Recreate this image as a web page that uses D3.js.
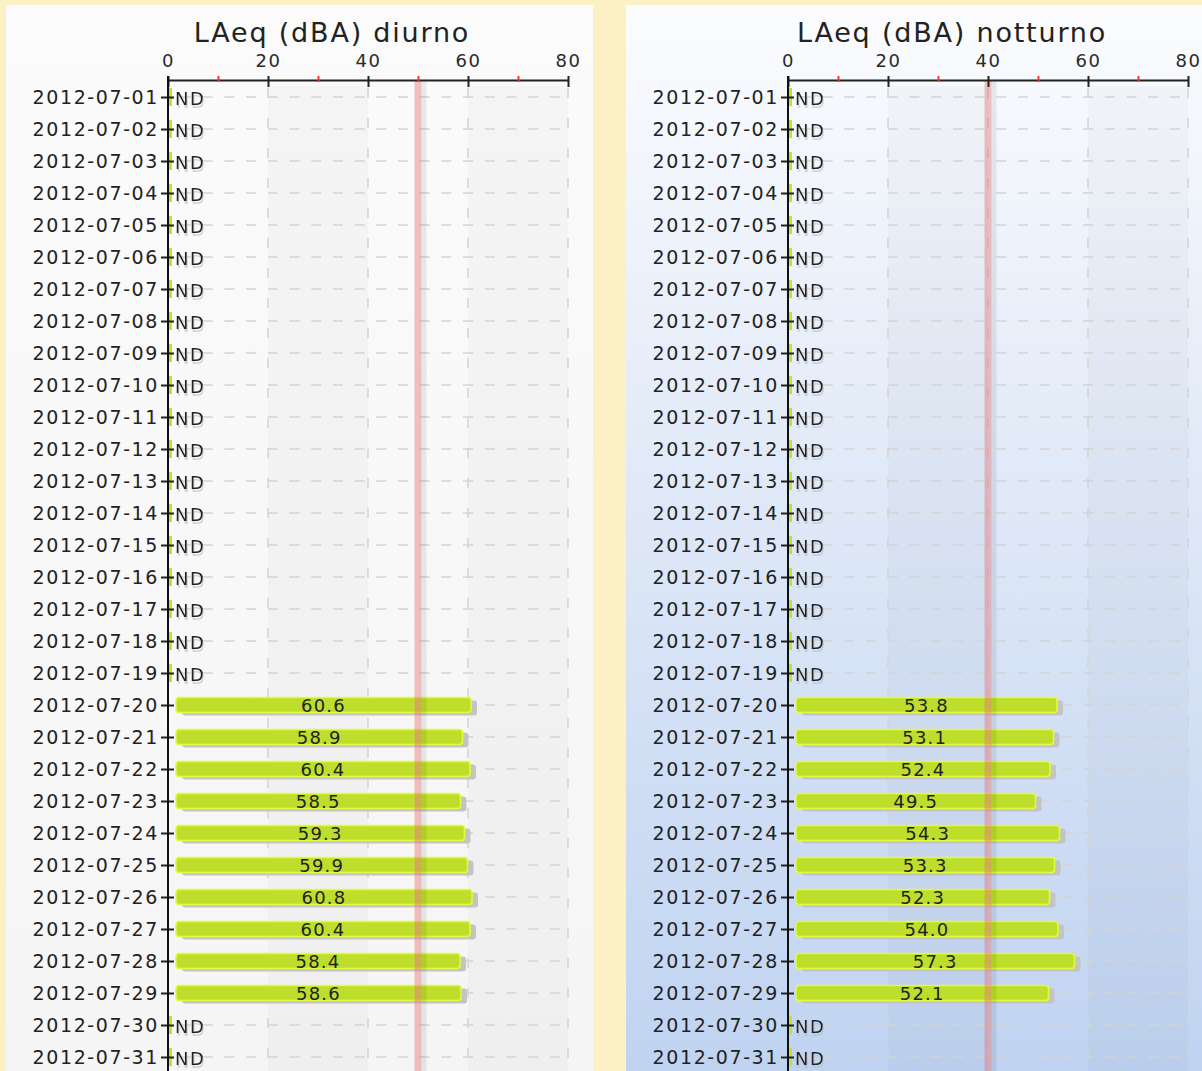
<!DOCTYPE html>
<html>
<head>
<meta charset="utf-8">
<script src="https://cdn.jsdelivr.net/npm/d3@7"></script>
<style>
  body { margin: 0; background: #fcf0c5; }
  svg { display: block; font-family: "DejaVu Sans", Verdana, sans-serif; }
</style>
</head>
<body>
<div id="chart"></div>
<script>
// Data (null = ND)
var dates = ["2012-07-01", "2012-07-02", "2012-07-03", "2012-07-04", "2012-07-05", "2012-07-06",
  "2012-07-07", "2012-07-08", "2012-07-09", "2012-07-10", "2012-07-11", "2012-07-12",
  "2012-07-13", "2012-07-14", "2012-07-15", "2012-07-16", "2012-07-17", "2012-07-18",
  "2012-07-19", "2012-07-20", "2012-07-21", "2012-07-22", "2012-07-23", "2012-07-24",
  "2012-07-25", "2012-07-26", "2012-07-27", "2012-07-28", "2012-07-29", "2012-07-30",
  "2012-07-31"];

var diurno = [null, null, null, null, null, null, null, null, null, null, null, null, null,
  null, null, null, null, null, null,
  60.6, 58.9, 60.4, 58.5, 59.3, 59.9, 60.8, 60.4, 58.4, 58.6, null, null];

var notturno = [null, null, null, null, null, null, null, null, null, null, null, null, null,
  null, null, null, null, null, null,
  53.8, 53.1, 52.4, 49.5, 54.3, 53.3, 52.3, 54.0, 57.3, 52.1, null, null];

var majorTicks = [0, 20, 40, 60, 80];
var minorTicks = [10, 30, 50, 70];
var limitDiurno = 50;
var limitNotturno = 40;

// Set up the chart
var svgWidth = 1202;
var svgHeight = 1071;
var panelWidth = 587;
var panelTop = 5;
var margin = { top: 80, left: 162 };
var width = 400;
var height = 1000;

var svg = d3.select("#chart")
    .append("svg")
    .attr("width", svgWidth)
    .attr("height", svgHeight);

var defs = svg.append("defs");

var grayBg = defs.append("linearGradient").attr("id", "grayBg")
    .attr("x1", 0).attr("y1", 0).attr("x2", 0).attr("y2", 1);
grayBg.append("stop").attr("offset", "0%").attr("stop-color", "#fbfbfb");
grayBg.append("stop").attr("offset", "100%").attr("stop-color", "#f5f5f5");

var blueBg = defs.append("linearGradient").attr("id", "blueBg")
    .attr("x1", 0).attr("y1", 0).attr("x2", 0).attr("y2", 1);
blueBg.append("stop").attr("offset", "0%").attr("stop-color", "#fbfcfe");
blueBg.append("stop").attr("offset", "50%").attr("stop-color", "#dde7f7");
blueBg.append("stop").attr("offset", "100%").attr("stop-color", "#bfd3f1");

// faint ghost under the ND labels
var ghost = defs.append("filter").attr("id", "ghost")
    .attr("x", "-20%").attr("y", "-20%").attr("width", "140%").attr("height", "160%");
ghost.append("feDropShadow")
    .attr("dx", 1).attr("dy", 3).attr("stdDeviation", 0.4)
    .attr("flood-color", "#bbbbbb").attr("flood-opacity", 0.6);

function drawPanel(px, title, values, limit, bg) {
    // panel background
    svg.append("rect")
        .attr("x", px)
        .attr("y", panelTop)
        .attr("width", panelWidth)
        .attr("height", svgHeight)
        .attr("fill", bg);

    svg.append("text")
        .attr("x", px + 326)
        .attr("y", 42)
        .attr("text-anchor", "middle")
        .attr("font-size", 27)
        .attr("letter-spacing", 1.8)
        .attr("fill", "#222")
        .text(title);

    var chartGroup = svg.append("g")
        .attr("transform", `translate(${px + margin.left}, ${margin.top})`);

    var xScale = d3.scaleLinear().domain([0, 80]).range([0, width]);
    var yScale = d3.scalePoint().domain(dates).range([17, 977]);

    // alternating column bands
    chartGroup.selectAll(".band")
        .data([[20, 40], [60, 80]])
        .enter()
        .append("rect")
        .attr("x", d => xScale(d[0]))
        .attr("width", d => xScale(d[1]) - xScale(d[0]))
        .attr("y", 6)
        .attr("height", height)
        .attr("fill", "rgba(0,0,0,0.025)");

    // vertical grid
    chartGroup.selectAll(".vgrid")
        .data(majorTicks.slice(1))
        .enter()
        .append("line")
        .attr("x1", d => xScale(d))
        .attr("x2", d => xScale(d))
        .attr("y1", 8)
        .attr("y2", height)
        .attr("stroke", "#d4d4d4")
        .attr("stroke-width", 1.5)
        .attr("stroke-dasharray", "10,20");

    // horizontal grid
    chartGroup.selectAll(".hgrid")
        .data(dates)
        .enter()
        .append("line")
        .attr("x1", xScale(0))
        .attr("x2", xScale(78.4))
        .attr("y1", d => yScale(d))
        .attr("y2", d => yScale(d))
        .attr("stroke", "#d4d4d4")
        .attr("stroke-width", 1.5)
        .attr("stroke-dasharray", "10,11.7")
        .attr("stroke-dashoffset", 8.7);

    var rows = dates.map((d, i) => ({ date: d, value: values[i] }));
    var data = rows.filter(d => d.value != null);
    var nd = rows.filter(d => d.value == null);
    var barStart = xScale(0) + 8;
    var barH = 15;

    // bar shadows
    chartGroup.selectAll(".shadow")
        .data(data)
        .enter()
        .append("rect")
        .attr("x", barStart + 6)
        .attr("y", d => yScale(d.date) - barH / 2 + 3)
        .attr("width", d => xScale(d.value) - barStart)
        .attr("height", barH)
        .attr("rx", 3)
        .attr("fill", "#c4c4c4");

    // bars
    chartGroup.selectAll(".bar")
        .data(data)
        .enter()
        .append("rect")
        .attr("x", barStart)
        .attr("y", d => yScale(d.date) - barH / 2)
        .attr("width", d => xScale(d.value) - barStart)
        .attr("height", barH)
        .attr("rx", 3)
        .attr("fill", "#bddf2b")
        .attr("stroke", "#e4fa3c")
        .attr("stroke-width", 1.5);

    // ND marks
    chartGroup.selectAll(".ndmark")
        .data(nd)
        .enter()
        .append("rect")
        .attr("x", 1)
        .attr("y", d => yScale(d.date) - 9)
        .attr("width", 3)
        .attr("height", 18)
        .attr("fill", "#c4e030");

    // limit band
    chartGroup.append("rect")
        .attr("x", xScale(limit) + 3.5)
        .attr("y", 1)
        .attr("width", 5)
        .attr("height", height)
        .attr("fill", "rgba(0,0,0,0.07)");
    chartGroup.append("rect")
        .attr("x", xScale(limit) - 3.5)
        .attr("y", 1)
        .attr("width", 7)
        .attr("height", height)
        .attr("fill", "rgba(225,120,120,0.45)");

    // ND labels
    chartGroup.selectAll(".ndlabel")
        .data(nd)
        .enter()
        .append("text")
        .attr("x", 7)
        .attr("y", d => yScale(d.date) + 8)
        .attr("font-size", 18)
        .attr("letter-spacing", 1.5)
        .attr("fill", "#222")
        .attr("filter", "url(#ghost)")
        .text("ND");

    // value labels
    chartGroup.selectAll(".vlabel")
        .data(data)
        .enter()
        .append("text")
        .attr("x", d => (barStart + xScale(d.value)) / 2)
        .attr("y", d => yScale(d.date) + 7)
        .attr("text-anchor", "middle")
        .attr("font-size", 18)
        .attr("letter-spacing", 1.2)
        .attr("fill", "#222")
        .text(d => d.value.toFixed(1));

    // x axis (top)
    var topAxis = chartGroup.append("g")
        .call(d3.axisTop(xScale).tickValues(majorTicks).tickSize(4).tickSizeOuter(0).tickPadding(9));
    topAxis.select(".domain").attr("stroke", "#222").attr("stroke-width", 2);
    topAxis.selectAll(".tick line").attr("y1", 7).attr("stroke", "#222").attr("stroke-width", 2);
    topAxis.selectAll(".tick text")
        .attr("font-size", 18)
        .attr("letter-spacing", 1.5)
        .attr("font-family", "DejaVu Sans")
        .attr("fill", "#2a2a2a");

    var minorAxis = chartGroup.append("g")
        .call(d3.axisTop(xScale).tickValues(minorTicks).tickSize(4).tickFormat(""));
    minorAxis.select(".domain").remove();
    minorAxis.selectAll(".tick line").attr("y1", 2).attr("stroke", "#ff3030").attr("stroke-width", 2);

    // y axis (left)
    var leftAxis = chartGroup.append("g")
        .call(d3.axisLeft(yScale).tickSize(7).tickPadding(2));
    leftAxis.select(".domain").remove();
    leftAxis.selectAll(".tick line").attr("x1", 6).attr("stroke", "#222").attr("stroke-width", 2);
    leftAxis.selectAll(".tick text")
        .attr("font-size", 19)
        .attr("letter-spacing", 1.6)
        .attr("font-family", "DejaVu Sans")
        .attr("fill", "#222");

    chartGroup.append("line")
        .attr("x1", 0).attr("x2", 0)
        .attr("y1", -4).attr("y2", height)
        .attr("stroke", "#111")
        .attr("stroke-width", 2);
}

drawPanel(6, "LAeq (dBA) diurno", diurno, limitDiurno, "url(#grayBg)");
drawPanel(626, "LAeq (dBA) notturno", notturno, limitNotturno, "url(#blueBg)");
</script>
</body>
</html>
